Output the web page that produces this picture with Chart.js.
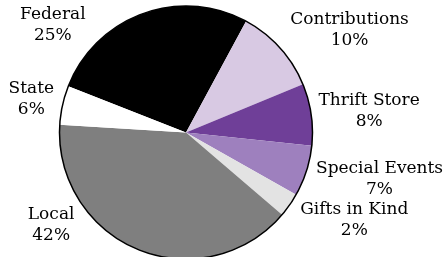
<!DOCTYPE html>
<html>
<head>
<meta charset="utf-8">
<script src="https://cdn.jsdelivr.net/npm/chart.js@4/dist/chart.umd.min.js"></script>
<style>
  html, body { margin: 0; padding: 0; background: #fff; overflow: hidden; }
  canvas { display: block; }
</style>
</head>
<body>
<canvas id="pie" width="447" height="259"></canvas>
<script>
// slice order: clockwise from the Federal wedge
const categories = ["Federal", "Contributions", "Thrift Store", "Special Events", "Gifts in Kind", "Local", "State"];
// wedge sizes (share of the circle)
const shares     = [26.9, 10.9, 7.9, 6.5, 3.1, 39.7, 5.0];
// percentages printed on the chart
const pctLabels  = ["25%", "10%", "8%", "7%", "2%", "42%", "6%"];
const colors     = ["#000000", "#d8c9e3", "#6f3f98", "#9e80be", "#e3e3e3", "#7f7f7f", "#ffffff"];

const FONT   = '17px "DejaVu Serif"';
const LINE_H = 21;

// black rim round the whole pie (no lines between wedges)
const rimPlugin = {
  id: "rim",
  afterDatasetsDraw(chart) {
    const arc = chart.getDatasetMeta(0).data[0];
    if (!arc) return;
    const { ctx } = chart;
    ctx.save();
    ctx.beginPath();
    ctx.arc(arc.x, arc.y, arc.outerRadius, 0, Math.PI * 2);
    ctx.lineWidth = 1.5;
    ctx.strokeStyle = "#000";
    ctx.stroke();
    ctx.restore();
  }
};

// two-line labels outside the pie, nudged off the edges and off the circle
const labelPlugin = {
  id: "outsideLabels",
  afterDraw(chart) {
    const { ctx } = chart;
    const meta = chart.getDatasetMeta(0);
    const top = 4, bottom = 246, pad = 6;
    ctx.save();
    ctx.font = FONT;
    ctx.fillStyle = "#000";
    ctx.textAlign = "center";
    ctx.textBaseline = "middle";
    meta.data.forEach((a, i) => {
      const cxp = a.x, cyp = a.y, r = a.outerRadius + pad;
      const mid = (a.startAngle + a.endAngle) / 2;
      const c = Math.cos(mid), s = Math.sin(mid);
      const halfW = Math.max(ctx.measureText(categories[i]).width, ctx.measureText(pctLabels[i]).width) / 2;
      const halfH = LINE_H;
      let bx = cxp + c * r + c * halfW;
      let by = cyp + s * r + s * halfH;
      by = Math.min(Math.max(by, top + halfH), bottom - halfH);
      const ny = Math.min(Math.max(cyp, by - halfH), by + halfH);
      const dy = ny - cyp;
      if (Math.abs(dy) < r) {
        const hw = Math.sqrt(r * r - dy * dy);
        if (c >= 0 && bx - halfW < cxp + hw) bx = cxp + hw + halfW;
        if (c < 0 && bx + halfW > cxp - hw) bx = cxp - hw - halfW;
      }
      ctx.fillText(categories[i], bx, by - LINE_H / 2);
      ctx.fillText(pctLabels[i], bx, by + LINE_H / 2);
    });
    ctx.restore();
  }
};

new Chart(document.getElementById("pie"), {
  type: "pie",
  data: {
    labels: categories,
    datasets: [{
      data: shares,
      backgroundColor: colors,
      borderWidth: 0
    }]
  },
  options: {
    responsive: false,
    animation: false,
    rotation: -68.5,
    layout: { padding: { top: 6, left: 0, right: 75, bottom: 0 } },
    plugins: {
      legend: { display: false },
      tooltip: { enabled: false }
    }
  },
  plugins: [rimPlugin, labelPlugin]
});
</script>
</body>
</html>
